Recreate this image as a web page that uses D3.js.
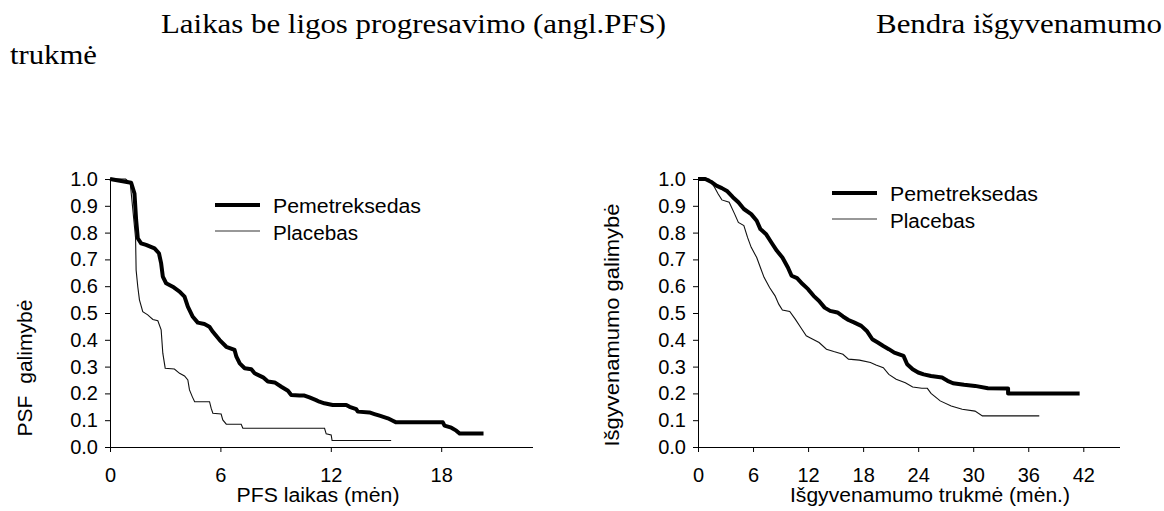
<!DOCTYPE html>
<html>
<head>
<meta charset="utf-8">
<script src="https://cdnjs.cloudflare.com/ajax/libs/d3/7.8.5/d3.min.js"></script>
<style>
    body { margin: 0; background: #fff; }
    svg { display: block; }
    .tick text { font-family: "Liberation Sans", Arial, sans-serif; font-size: 20px; fill: #000; }
    .lbl { font-family: "Liberation Sans", Arial, sans-serif; font-size: 20px; fill: #000; white-space: pre; }
    .title { font-family: "Liberation Serif", "Times New Roman", serif; font-size: 28px; fill: #000; }
</style>
</head>
<body>
<div id="chart"></div>
<script>
// page titles
const titles = ["Laikas be ligos progresavimo (angl.PFS)", "Bendra išgyvenamumo", "trukmė"]

// legend
const seriesNames = ["Pemetreksedas", "Placebas"]

// left panel: PFS, [month, probability]
const pfsPemetreksedas = [
    [0, 1.0], [1.15, 0.986], [1.33, 0.946], [1.42, 0.847], [1.51, 0.779], [1.69, 0.76],
    [1.96, 0.754], [2.42, 0.741], [2.66, 0.723], [2.78, 0.685], [2.87, 0.636], [3.05, 0.611],
    [3.41, 0.598], [3.78, 0.58], [4.05, 0.561], [4.23, 0.524], [4.5, 0.486], [4.77, 0.464],
    [5.13, 0.459], [5.4, 0.449], [5.59, 0.43], [5.96, 0.399], [6.32, 0.374], [6.77, 0.362],
    [6.87, 0.337], [7.05, 0.312], [7.32, 0.294], [7.68, 0.29], [7.86, 0.275], [8.32, 0.26],
    [8.58, 0.244], [8.95, 0.241], [9.31, 0.225], [9.67, 0.21], [9.85, 0.194], [10.3, 0.192],
    [10.57, 0.192], [10.84, 0.185], [11.2, 0.175], [11.38, 0.169], [11.65, 0.163], [12.1, 0.157],
    [12.84, 0.157], [13.02, 0.15], [13.38, 0.141], [13.47, 0.132], [14.1, 0.129], [14.37, 0.123],
    [14.65, 0.117], [15.1, 0.107], [15.37, 0.098], [15.55, 0.092], [18.09, 0.092], [18.18, 0.08],
    [18.55, 0.072], [18.82, 0.061], [19.0, 0.05], [20.3, 0.05]
]
const pfsPlacebas = [
    [0, 1.0], [0.85, 1.0], [1.1, 0.985], [1.39, 0.78], [1.42, 0.66], [1.51, 0.598],
    [1.6, 0.549], [1.78, 0.505], [2.05, 0.493], [2.33, 0.476], [2.6, 0.471], [2.78, 0.437],
    [2.87, 0.35], [3.0, 0.294], [3.5, 0.291], [3.78, 0.275], [4.05, 0.265], [4.23, 0.25],
    [4.32, 0.213], [4.47, 0.188], [4.6, 0.169], [5.41, 0.169], [5.5, 0.144], [5.59, 0.126],
    [6.04, 0.123], [6.13, 0.101], [6.32, 0.085], [7.13, 0.085], [7.22, 0.07], [11.66, 0.07],
    [11.75, 0.049], [12.02, 0.045], [12.07, 0.024], [15.28, 0.024]
]

// right panel: overall survival, [month, probability]
const osPemetreksedas = [
    [0, 1.0], [0.8, 1.0], [1.4, 0.99], [2.0, 0.975], [2.6, 0.966], [3.2, 0.954], [3.8, 0.932],
    [4.4, 0.913], [5.0, 0.888], [5.8, 0.869], [6.4, 0.844], [6.8, 0.813], [7.4, 0.795],
    [8.0, 0.763], [8.6, 0.732], [9.2, 0.707], [9.8, 0.67], [10.2, 0.639], [10.8, 0.63],
    [11.4, 0.608], [12.0, 0.589], [12.6, 0.564], [13.2, 0.545], [13.8, 0.52], [14.4, 0.508],
    [15.2, 0.502], [15.8, 0.487], [16.4, 0.474], [17.0, 0.465], [17.8, 0.452], [18.4, 0.433],
    [19.0, 0.402], [19.6, 0.39], [20.2, 0.377], [20.8, 0.365], [21.4, 0.352], [22.4, 0.34],
    [22.8, 0.309], [23.4, 0.29], [24.0, 0.278], [24.6, 0.271], [25.4, 0.265], [26.6, 0.259],
    [27.2, 0.247], [27.8, 0.238], [29.0, 0.232], [30.2, 0.228], [31.6, 0.219], [33.8, 0.218],
    [33.8, 0.2], [41.6, 0.2]
]
const osPlacebas = [
    [0, 1.0], [1.2, 1.0], [1.8, 0.969], [2.2, 0.944], [2.6, 0.922], [3.4, 0.913], [4.0, 0.869],
    [4.4, 0.838], [5.0, 0.826], [5.4, 0.782], [5.8, 0.745], [6.4, 0.707], [6.8, 0.67],
    [7.2, 0.633], [7.8, 0.595], [8.4, 0.564], [8.8, 0.533], [9.2, 0.511], [10.0, 0.506],
    [10.6, 0.477], [11.2, 0.446], [11.8, 0.415], [12.2, 0.408], [13.2, 0.39], [14.0, 0.365],
    [14.8, 0.356], [15.8, 0.346], [16.4, 0.328], [17.6, 0.324], [18.8, 0.315], [19.4, 0.306],
    [20.2, 0.296], [20.8, 0.271], [21.6, 0.253], [22.6, 0.24], [23.4, 0.224], [24.4, 0.219],
    [25.0, 0.219], [25.4, 0.2], [26.4, 0.172], [27.6, 0.153], [28.8, 0.141], [30.2, 0.134],
    [31.0, 0.116], [37.2, 0.116]
]

const yTicks = d3.range(0, 11).map(i => i / 10)
const pfsTicks = [0, 6, 12, 18]
const osTicks = [0, 6, 12, 18, 24, 30, 36, 42]

const width = 1164
const height = 511

const svg = d3.select("#chart")
    .append("svg")
    .attr("width", width)
    .attr("height", height)

svg.append("rect").attr("width", width).attr("height", height).attr("fill", "#fff")

// titles
svg.append("text").attr("class", "title")
    .attr("x", 161).attr("y", 33)
    .attr("textLength", 505).attr("lengthAdjust", "spacingAndGlyphs")
    .text(titles[0])
svg.append("text").attr("class", "title")
    .attr("x", 876).attr("y", 33)
    .attr("textLength", 286).attr("lengthAdjust", "spacingAndGlyphs")
    .text(titles[1])
svg.append("text").attr("class", "title")
    .attr("x", 10).attr("y", 64)
    .attr("textLength", 87).attr("lengthAdjust", "spacingAndGlyphs")
    .text(titles[2])

const drawPanel = ({left, right, xMax, xTicks, pem, pla, yLabel, yLabelX, yLabelY, yLabelLen, xLabel, xLabelX, xLabelLen, legendX, legendY, legendGap}) => {
    const top = 179
    const bottom = 447

    const x = d3.scaleLinear().domain([0, xMax]).range([left, right])
    const y = d3.scaleLinear().domain([0, 1]).range([bottom, top])

    const g = svg.append("g")

    // axes
    g.append("g")
        .attr("transform", `translate(0,${bottom})`)
        .call(d3.axisBottom(x).tickValues(xTicks).tickSize(5).tickPadding(16).tickFormat(d3.format("d")))
        .call(a => a.select(".domain").attr("d", `M${left},0.5H${right}`))

    g.append("g")
        .attr("transform", `translate(${left},0)`)
        .call(d3.axisLeft(y).tickValues(yTicks).tickSize(5).tickPadding(7).tickFormat(d3.format(".1f")))
        .call(a => a.select(".domain").attr("d", `M0.5,${top}V${bottom}`))

    g.selectAll(".domain, .tick line").attr("stroke", "#000")

    // curves
    const line = d3.line().x(d => x(d[0])).y(d => y(d[1]))
    g.append("path").datum(pla)
        .attr("d", line).attr("fill", "none")
        .attr("stroke", "#111").attr("stroke-width", 1.1)
    g.append("path").datum(pem)
        .attr("d", line).attr("fill", "none")
        .attr("stroke", "#000").attr("stroke-width", 4)
        .attr("stroke-linejoin", "round")

    // legend
    g.append("line").attr("x1", legendX).attr("x2", legendX + 45)
        .attr("y1", legendY).attr("y2", legendY)
        .attr("stroke", "#000").attr("stroke-width", 4)
    g.append("line").attr("x1", legendX).attr("x2", legendX + 45)
        .attr("y1", legendY + legendGap).attr("y2", legendY + legendGap)
        .attr("stroke", "#333").attr("stroke-width", 1.1)
    g.append("text").attr("class", "lbl")
        .attr("x", legendX + 58).attr("y", legendY + 8)
        .attr("textLength", 148).attr("lengthAdjust", "spacingAndGlyphs")
        .text(seriesNames[0])
    g.append("text").attr("class", "lbl")
        .attr("x", legendX + 58).attr("y", legendY + legendGap + 9)
        .attr("textLength", 85).attr("lengthAdjust", "spacingAndGlyphs")
        .text(seriesNames[1])

    // axis labels
    g.append("text").attr("class", "lbl")
        .attr("text-anchor", "middle")
        .attr("transform", `translate(${yLabelX},${yLabelY}) rotate(-90)`)
        .attr("textLength", yLabelLen).attr("lengthAdjust", "spacingAndGlyphs")
        .text(yLabel)
    g.append("text").attr("class", "lbl")
        .attr("text-anchor", "middle")
        .attr("x", xLabelX).attr("y", 502)
        .attr("textLength", xLabelLen).attr("lengthAdjust", "spacingAndGlyphs")
        .text(xLabel)
}

drawPanel({
    left: 110, right: 533, xMax: (533 - 110) / 18.4,
    xTicks: pfsTicks, pem: pfsPemetreksedas, pla: pfsPlacebas,
    yLabel: "PSF  galimybė", yLabelX: 32, yLabelY: 368, yLabelLen: 137,
    xLabel: "PFS laikas (mėn)", xLabelX: 318, xLabelLen: 163,
    legendX: 215, legendY: 205, legendGap: 26
})

drawPanel({
    left: 698, right: 1120, xMax: 46,
    xTicks: osTicks, pem: osPemetreksedas, pla: osPlacebas,
    yLabel: "Išgyvenamumo galimybė", yLabelX: 619, yLabelY: 325, yLabelLen: 243,
    xLabel: "Išgyvenamumo trukmė (mėn.)", xLabelX: 930, xLabelLen: 280,
    legendX: 832, legendY: 193, legendGap: 26
})
</script>
</body>
</html>
